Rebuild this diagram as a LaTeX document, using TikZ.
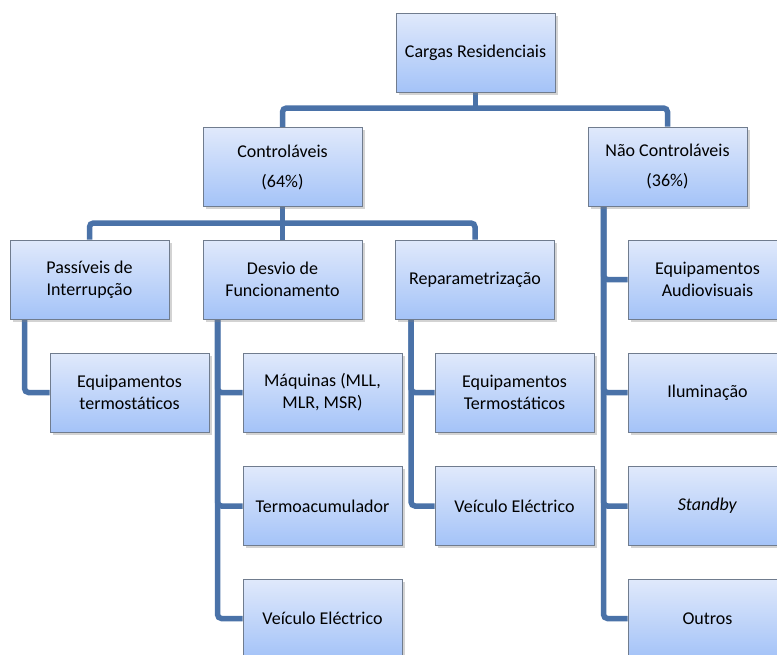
\documentclass[tikz,border=0pt]{standalone}
\usepackage{fontspec}
\setmainfont{Carlito}
\usetikzlibrary{shadows,backgrounds}
\definecolor{linkblue}{RGB}{74,114,168}
\definecolor{boxtop}{RGB}{224,233,251}
\definecolor{boxbot}{RGB}{164,195,248}
\definecolor{boxedge}{RGB}{112,124,142}
\tikzset{
  box/.style={rectangle, draw=boxedge, line width=0.9pt, top color=boxtop, bottom color=boxbot,
    minimum width=159pt, minimum height=79pt, inner sep=2pt, align=center,
    font=\fontsize{18}{22}\selectfont,
    drop shadow={opacity=0.35, shadow xshift=2.5pt, shadow yshift=-2.5pt}},
  link/.style={draw=linkblue, line width=5.5pt, rounded corners=4pt}
}
\begin{document}
\begin{tikzpicture}[x=1pt,y=-1pt]
\useasboundingbox (0,0) rectangle (777,654);
\clip (0,0) rectangle (777,654);
% nodes
\node[box] (root) at (475.5,52.5) {Cargas Residenciais};
\node[box] (ctrl) at (282.5,167) {Controláveis\\[8pt](64\%)};
\node[box] (ncl) at (667.5,166.5) {Não Controláveis\\[8pt](36\%)};
\node[box] (pass) at (89.5,279.5) {Passíveis de\\Interrupção};
\node[box] (des) at (282.5,279.5) {Desvio de\\Funcionamento};
\node[box] (rep) at (475,279.5) {Reparametrização};
\node[box] (eqt) at (129.5,392.5) {Equipamentos\\termostáticos};
\node[box] (maq) at (322.5,392.5) {Máquinas (MLL,\\MLR, MSR)};
\node[box] (term) at (322.5,506) {Termoacumulador};
\node[box] (vei1) at (322.5,618.5) {Veículo Eléctrico};
\node[box] (eqT) at (514.5,392.5) {Equipamentos\\Termostáticos};
\node[box] (vei2) at (514.5,506) {Veículo Eléctrico};
\node[box] (audio) at (707.5,279.5) {Equipamentos\\Audiovisuais};
\node[box] (ilum) at (707.5,392.5) {Iluminação};
\node[box] (stby) at (707.5,506) {\textit{Standby}};
\node[box] (outr) at (707.5,618.5) {Outros};
\coordinate (b1) at (475.5,108);
\coordinate (b2) at (282.5,223);
% connectors
\begin{scope}[on background layer]
\draw[link] (ctrl.north) |- (b1) -| (ncl.north);
\draw[link] (root.south) -- (b1);
\draw[link] (pass.north) |- (b2) -| (rep.north);
\draw[link] (ctrl.south) -- (des.north);
\draw[link] ([xshift=15pt]pass.south west) |- (eqt.west);
\draw[link] ([xshift=15pt]des.south west) |- (maq.west);
\draw[link] ([xshift=15pt]des.south west) |- (term.west);
\draw[link] ([xshift=15pt]des.south west) |- (vei1.west);
\draw[link] ([xshift=16pt]rep.south west) |- (eqT.west);
\draw[link] ([xshift=16pt]rep.south west) |- (vei2.west);
\draw[link] ([xshift=16pt]ncl.south west) |- (audio.west);
\draw[link] ([xshift=16pt]ncl.south west) |- (ilum.west);
\draw[link] ([xshift=16pt]ncl.south west) |- (stby.west);
\draw[link] ([xshift=16pt]ncl.south west) |- (outr.west);
\end{scope}
\end{tikzpicture}
\end{document}
